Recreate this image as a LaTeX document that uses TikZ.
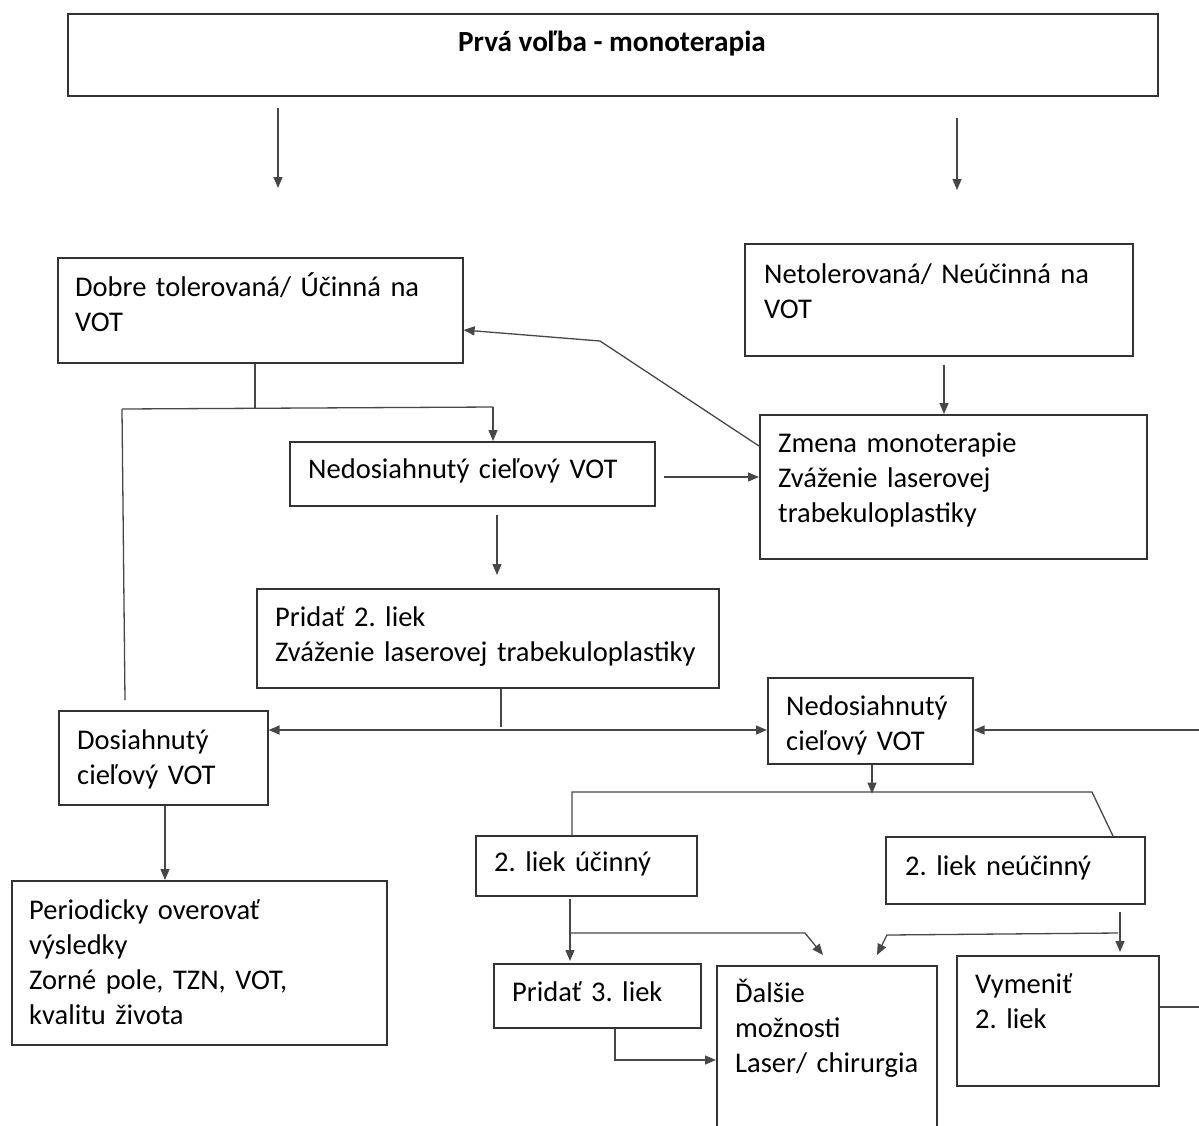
\documentclass[tikz,border=0pt]{standalone}
\usepackage{fontspec}
\setmainfont{Carlito}
\usetikzlibrary{arrows.meta,calc}
\frenchspacing
\begin{document}
\begin{tikzpicture}[x=1pt,y=-1pt,
  box/.style={draw=black!80, line width=1.6pt, anchor=north west, inner sep=0pt},
  lbl/.style={anchor=base west, inner sep=0pt, text width=600pt,
    font=\fontsize{28.5}{35}\selectfont\frenchspacing, text=black},
  conn/.style={draw=black!72, line width=1.3pt},
  arr/.style={conn, -{Triangle[length=11pt,width=9pt]}},
  barr/.style={conn, {Triangle[length=11pt,width=9pt]}-{Triangle[length=11pt,width=9pt]}}]
\clip (0,0) rectangle (1199,1125);
\fill[white] (0,0) rectangle (1199,1125);
% boxes
\node[box, minimum width=1090pt, minimum height=82pt] (top) at (67,13) {};
\node[box, minimum width=405pt, minimum height=105pt] (dobre) at (57,257) {};
\node[box, minimum width=388pt, minimum height=112pt] (netol) at (744,243) {};
\node[box, minimum width=387pt, minimum height=144pt] (zmena) at (759,414) {};
\node[box, minimum width=365pt, minimum height=64pt] (ned1) at (289,441) {};
\node[box, minimum width=462pt, minimum height=99pt] (prid2) at (256,588) {};
\node[box, minimum width=209pt, minimum height=94pt] (dosi) at (58,710) {};
\node[box, minimum width=205pt, minimum height=86pt] (ned2) at (767,677) {};
\node[box, minimum width=375pt, minimum height=164pt] (period) at (11,880) {};
\node[box, minimum width=221pt, minimum height=60pt] (ucin) at (475,835) {};
\node[box, minimum width=259pt, minimum height=67pt] (neucin) at (885,836) {};
\node[box, minimum width=207pt, minimum height=64pt] (prid3) at (493,963) {};
\node[box, minimum width=220pt, minimum height=220pt] (dalsie) at (716,965) {};
\node[box, minimum width=202pt, minimum height=130pt] (vymen) at (956,955) {};
% labels
\node[anchor=base, inner sep=0pt, font=\fontsize{29.2}{35}\selectfont\bfseries] (ttop) at (612,51) {Prvá voľba - monoterapia};
\node[lbl] (tdobre) at (75,296) {Dobre tolerovaná/ Účinná na\\VOT};
\node[lbl] (tnetol) at (764,283) {Netolerovaná/ Neúčinná na\\VOT};
\node[lbl] (tzmena) at (778,452) {Zmena monoterapie\\Zváženie laserovej\\trabekuloplastiky};
\node[lbl] (tned1) at (308,478) {Nedosiahnutý cieľový VOT};
\node[lbl] (tprid2) at (275,626) {Pridať 2. liek\\Zváženie laserovej trabekuloplastiky};
\node[lbl] (tdosi) at (77,749) {Dosiahnutý\\cieľový VOT};
\node[lbl] (tned2) at (786,715) {Nedosiahnutý\\cieľový VOT};
\node[lbl] (tucin) at (494,871) {2. liek účinný};
\node[lbl] (tneucin) at (905,875) {2. liek neúčinný};
\node[lbl] (tperiod) at (29,919) {Periodicky overovať\\výsledky\\Zorné pole, TZN, VOT,\\kvalitu života};
\node[lbl] (tprid3) at (512,1001) {Pridať 3. liek};
\node[lbl] (tdalsie) at (735,1002) {Ďalšie\\možnosti\\Laser/ chirurgia};
\node[lbl] (tvymen) at (975,993) {Vymeniť\\2. liek};
% free-end coordinates
\coordinate (a1s) at (278,108); \coordinate (a1e) at (278,188);
\coordinate (a2s) at (957,118); \coordinate (a2e) at (957,190);
\coordinate (kink) at (600,341);
\coordinate (j0) at (255,408);
\coordinate (j1) at (122,409);
\coordinate (j2) at (493,407);
\coordinate (j3) at (125,700);
\coordinate (redge) at (1199,730);
\coordinate (s1) at (572,792);
\coordinate (s2) at (1092,792);
\coordinate (u1) at (570,933);
\coordinate (u2) at (805,933);
\coordinate (u3) at (823,955);
\coordinate (n1) at (1118,933);
\coordinate (n2) at (887,935);
\coordinate (n3) at (877,955);
\coordinate (p3) at (615,1060);
\coordinate (vr) at (1199,1007);
% connectors
\draw[arr] (a1s) -- (a1e);
\draw[arr] (a2s) -- (a2e);
\draw[arr] ($(netol.south west)+(200,8)$) -- ($(zmena.north west)+(185,0)$);
\draw[arr] ($(zmena.north west)+(0,32)$) -- (kink) -- ($(dobre.north east)+(0,73)$);
\draw[conn] ($(dobre.south west)+(198,0)$) -- (j0);
\draw[conn] (j1) -- (j2);
\draw[arr] (j2) -- ($(ned1.north west)+(204,0)$);
\draw[conn] (j1) -- (j3);
\draw[arr] ($(ned1.north east)+(8,36)$) -- ($(zmena.north west)+(0,63)$);
\draw[arr] ($(ned1.south west)+(208,8)$) -- ($(prid2.north west)+(241,-13)$);
\draw[conn] ($(prid2.south west)+(245,0)$) -- ++(0,38);
\draw[barr] ($(dosi.north east)+(0,20)$) -- ($(ned2.north west)+(0,53)$);
\draw[arr] (redge) -- ($(ned2.north east)+(0,53)$);
\draw[arr] ($(ned2.south west)+(105,0)$) -- ($(ned2.south west)+(105,29)$);
\draw[conn] ($(ucin.north west)+(97,0)$) -- (s1) -- (s2) -- ($(neucin.north west)+(228,0)$);
\draw[arr] ($(dosi.south west)+(107,0)$) -- ($(period.north west)+(154,0)$);
\draw[arr] ($(ucin.south west)+(95,2)$) -- ($(prid3.north west)+(77,-2)$);
\draw[arr] (u1) -- (u2) -- (u3);
\draw[arr] ($(neucin.south west)+(235,7)$) -- ($(vymen.north west)+(164,-3)$);
\draw[arr] (n1) -- (n2) -- (n3);
\draw[arr] ($(prid3.south west)+(122,0)$) -- (p3) -- ($(dalsie.north west)+(0,95)$);
\draw[conn] ($(vymen.north east)+(0,52)$) -- (vr);
\end{tikzpicture}
\end{document}
